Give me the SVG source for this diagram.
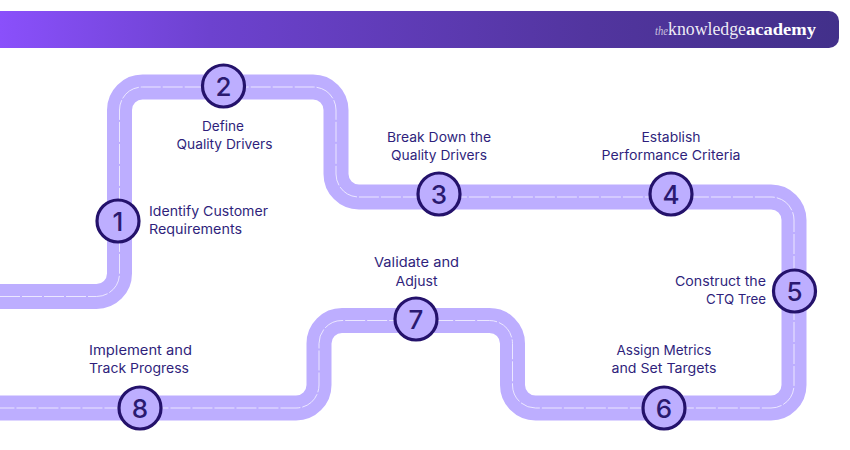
<svg xmlns="http://www.w3.org/2000/svg" width="850" height="450" viewBox="0 0 850 450">
<style>
.road{fill:none;stroke:#bdaeff;stroke-width:25}
.dash{fill:none;stroke:#f1edff;stroke-width:.9;stroke-dasharray:20 2}
.node circle{fill:#bdaeff;stroke:#24126b;stroke-width:3.2}
.num{font-family:Inter,"Liberation Sans",sans-serif;font-size:26px;font-weight:500;fill:#2a1a70;text-anchor:middle}
.lbl{font-family:Inter,"Liberation Sans",sans-serif;font-size:13px;fill:#2f1f7c}
.m{text-anchor:middle}
.e{text-anchor:end}
.logo{font-family:"Liberation Serif",serif;fill:#fff}
</style>
<defs>
<linearGradient id="bar" x1="0" y1="0" x2="1" y2="0">
<stop offset="0" stop-color="#8a50fb"/>
<stop offset="0.25" stop-color="#6d42cf"/>
<stop offset="0.7" stop-color="#52359f"/>
<stop offset="1" stop-color="#42308a"/>
</linearGradient>
<path id="route" d="M0 296.500H96.500A23 23 0 0 0 119.500 273.500V110A23 23 0 0 1 142.500 87H313A23 23 0 0 1 336 110V174A23 23 0 0 0 359 197H771A23 23 0 0 1 794 220V385A23 23 0 0 1 771 408H535.500A23 23 0 0 1 512.500 385V343.500A23 23 0 0 0 489.500 320.500H342A23 23 0 0 0 319 343.500V385A23 23 0 0 1 296 408H0"/>
</defs>
<g id="header">
<path d="M0 11H829A10 10 0 0 1 839 21V38A10 10 0 0 1 829 48H0Z" fill="url(#bar)"/>
<text class="logo" x="655" y="35" font-size="11.500" font-style="italic" fill-opacity="0.7" textLength="13" lengthAdjust="spacingAndGlyphs">the</text>
<text class="logo" x="668" y="35" font-size="18" fill-opacity="0.92" textLength="78" lengthAdjust="spacingAndGlyphs">knowledge</text>
<text class="logo" x="746" y="35" font-size="17" font-weight="700" textLength="70" lengthAdjust="spacingAndGlyphs">academy</text>
</g>
<g id="connectors">
<use href="#route" class="road"/>
<use href="#route" class="dash"/>
</g>
<g id="node1" class="node"><circle cx="118" cy="221" r="21"/><text class="num" x="118" y="230.500">1</text>
<text class="lbl" x="149" y="216" textLength="119" lengthAdjust="spacingAndGlyphs">Identify Customer</text><text class="lbl" x="149" y="234" textLength="93" lengthAdjust="spacingAndGlyphs">Requirements</text></g>
<g id="node2" class="node"><circle cx="223.500" cy="86" r="21"/><text class="num" x="223.500" y="95.500">2</text>
<text class="lbl m" x="223" y="131" textLength="42" lengthAdjust="spacingAndGlyphs">Define</text><text class="lbl m" x="224.500" y="149" textLength="96" lengthAdjust="spacingAndGlyphs">Quality Drivers</text></g>
<g id="node3" class="node"><circle cx="439" cy="194" r="21"/><text class="num" x="439" y="203.500">3</text>
<text class="lbl m" x="439" y="142" textLength="104" lengthAdjust="spacingAndGlyphs">Break Down the</text><text class="lbl m" x="439" y="160" textLength="96" lengthAdjust="spacingAndGlyphs">Quality Drivers</text></g>
<g id="node4" class="node"><circle cx="671" cy="194" r="21"/><text class="num" x="671" y="203.500">4</text>
<text class="lbl m" x="671" y="142" textLength="59" lengthAdjust="spacingAndGlyphs">Establish</text><text class="lbl m" x="671" y="160" textLength="139" lengthAdjust="spacingAndGlyphs">Performance Criteria</text></g>
<g id="node5" class="node"><circle cx="794.500" cy="291" r="21"/><text class="num" x="794.500" y="300.500">5</text>
<text class="lbl e" x="766" y="286" textLength="91" lengthAdjust="spacingAndGlyphs">Construct the</text><text class="lbl e" x="766" y="304" textLength="60" lengthAdjust="spacingAndGlyphs">CTQ Tree</text></g>
<g id="node6" class="node"><circle cx="664" cy="408" r="21"/><text class="num" x="664" y="417.500">6</text>
<text class="lbl m" x="664" y="355" textLength="95" lengthAdjust="spacingAndGlyphs">Assign Metrics</text><text class="lbl m" x="664" y="373" textLength="105" lengthAdjust="spacingAndGlyphs">and Set Targets</text></g>
<g id="node7" class="node"><circle cx="416" cy="319" r="21"/><text class="num" x="416" y="328.500">7</text>
<text class="lbl m" x="416.500" y="267" textLength="85" lengthAdjust="spacingAndGlyphs">Validate and</text><text class="lbl m" x="416.500" y="286" textLength="42" lengthAdjust="spacingAndGlyphs">Adjust</text></g>
<g id="node8" class="node"><circle cx="140" cy="408" r="21"/><text class="num" x="140" y="417.500">8</text>
<text class="lbl m" x="140.500" y="355" textLength="103" lengthAdjust="spacingAndGlyphs">Implement and</text><text class="lbl m" x="139" y="373" textLength="100" lengthAdjust="spacingAndGlyphs">Track Progress</text></g>
</svg>
